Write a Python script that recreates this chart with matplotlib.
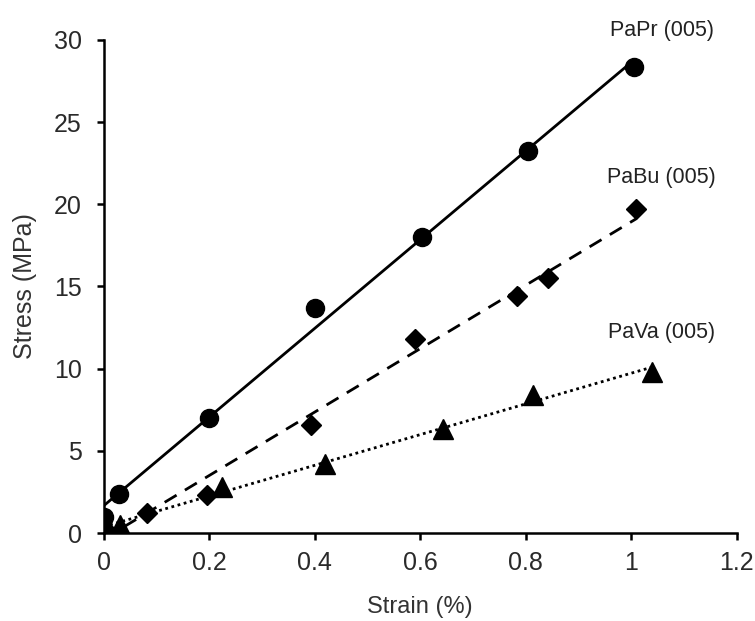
import numpy as np
import matplotlib.pyplot as plt

plt.rcParams['font.family'] = ['Liberation Sans', 'DejaVu Sans']

# PaPr (005)
papr_strain = [0.0, 0.028, 0.20, 0.40, 0.603, 0.805, 1.005]
papr_stress = [1.0, 2.4, 7.0, 13.7, 18.0, 23.25, 28.35]

# PaBu (005)
pabu_strain = [0.0, 0.0, 0.082, 0.195, 0.392, 0.59, 0.783, 0.843, 1.01]
pabu_stress = [0.1, 0.3, 1.2, 2.3, 6.6, 11.8, 14.45, 15.5, 19.7]

# PaVa (005)
pava_strain = [0.0, 0.03, 0.224, 0.42, 0.643, 0.813, 1.04]
pava_stress = [0.3, 0.5, 2.8, 4.2, 6.3, 8.4, 9.8]

labels = ['PaPr (005)', 'PaBu (005)', 'PaVa (005)']
label_y = [30.55, 21.6, 12.2]

fig = plt.figure(figsize=(7.55, 6.21), dpi=100)
ax = fig.add_axes([0.1377, 0.1417, 0.838, 0.794])

series = [
    (papr_strain, papr_stress, 'o', 13, (0, ())),
    (pabu_strain, pabu_stress, 'D', 10.5, (0, (5, 3.5))),
    (pava_strain, pava_stress, '^', 14, (0, (1, 1.3))),
]

for (x, y, mk, ms, dash), lab, ly in zip(series, labels, label_y):
    x = np.array(x)
    y = np.array(y)
    ax.plot(x, y, linestyle='none', marker=mk, markersize=ms, color='black', zorder=3)
    # linear trend line
    k, b = np.polyfit(x, y, 1)
    xs = np.array([0, x.max()])
    ax.plot(xs, k * xs + b, color='black', linewidth=2, linestyle=dash, zorder=2)
    ax.text(1.058, ly, lab, fontsize=15.5, color='#222222', ha='center', va='center',
            clip_on=False)

ax.set_xlim(0, 1.2)
ax.set_ylim(0, 30)
ax.set_xticks([0, 0.2, 0.4, 0.6, 0.8, 1.0, 1.2])
ax.set_xticklabels(['0', '0.2', '0.4', '0.6', '0.8', '1', '1.2'])
ax.set_yticks([0, 5, 10, 15, 20, 25, 30])

for side in ['top', 'right']:
    ax.spines[side].set_visible(False)
for side in ['left', 'bottom']:
    ax.spines[side].set_linewidth(1.8)
    ax.spines[side].set_color('black')

ax.tick_params(axis='both', direction='out', length=5, width=1.8,
               labelsize=18, labelcolor='#2a2a2a')
ax.tick_params(axis='y', pad=11)
ax.tick_params(axis='x', pad=8)

ax.set_xlabel('Strain (%)', fontsize=17, color='#333333', labelpad=15)
ax.set_ylabel('Stress (MPa)', fontsize=18, color='#333333', labelpad=12)

fig.savefig('out.png', dpi=100)
